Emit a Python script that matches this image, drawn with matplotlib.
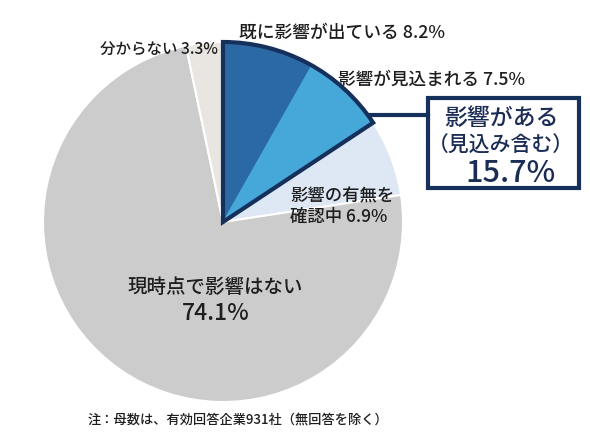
import matplotlib
matplotlib.use('Agg')
import matplotlib.pyplot as plt
from matplotlib.patches import Wedge, Rectangle

plt.rcParams['font.family'] = ['Noto Sans CJK JP', 'DejaVu Sans']
plt.rcParams['font.weight'] = 'medium'

# data
labels = ['既に影響が出ている', '影響が見込まれる', '影響の有無を\n確認中', '現時点で影響はない', '分からない']
shares = [8.2, 7.5, 6.9, 74.1, 3.3]
colors = ['#2b69a5', '#45a8d9', '#dde8f4', '#cdcccc', '#e9e5e1']
group_title = '影響がある'
group_sub = '（見込み含む）'
group_share = shares[0] + shares[1]
note = '注：母数は、有効回答企業931社（無回答を除く）'

W, H = 590, 443
navy = '#16305c'
txt = '#1e1e1e'

fig = plt.figure(figsize=(W / 100, H / 100), dpi=100)
ax = fig.add_axes([0, 0, 1, 1])

cx, cy, r = 223, H - 222, 180
wedges, _ = ax.pie(shares, colors=colors, startangle=90, counterclock=False,
                   center=(cx, cy), radius=r,
                   wedgeprops=dict(edgecolor='white', linewidth=1.5))
# blue wedges: no white seam between them
for w in wedges[:2]:
    w.set_edgecolor(w.get_facecolor())
    w.set_linewidth(0.5)

# outline around the "impact" group
end_ang = 90
start_ang = 90 - group_share / 100 * 360
ax.add_patch(Wedge((cx, cy), r, start_ang, end_ang, fill=False,
                   edgecolor=navy, linewidth=3, joinstyle='miter', zorder=5))

ax.set_xlim(0, W)
ax.set_ylim(0, H)
ax.set_aspect('auto')
ax.axis('off')

ax.text(239, H - 33, f'{labels[0]} {shares[0]}%', fontsize=12.8, color=txt, ha='left', va='center')
ax.text(338, H - 80, f'{labels[1]} {shares[1]}%', fontsize=12.7, color=txt, ha='left', va='center')
ax.text(290, H - 207, f'{labels[2]} {shares[2]}%', fontsize=12.5, color=txt, ha='left', va='center',
        linespacing=1.2)
ax.text(100, H - 50, f'{labels[4]} {shares[4]}%', fontsize=11.2, color=txt, ha='left', va='center')
ax.text(215, H - 287, labels[3], fontsize=14, color=txt, ha='center', va='center')
ax.text(216, H - 313, f'{shares[3]}%', fontsize=16.5, color=txt, ha='center', va='center')

# callout box
ax.plot([370, 428], [H - 115, H - 115], color=navy, lw=3, zorder=5)
ax.add_patch(Rectangle((428, H - 188), 151, 90, fill=False, edgecolor=navy, lw=3, zorder=5))
box_txt = '#1c2d55'
ax.text(501, H - 118, group_title, fontsize=16.5, color=box_txt, ha='center', va='center')
ax.text(501, H - 146, group_sub, fontsize=15, color=box_txt, ha='center', va='center')
ax.text(511, H - 173, f'{group_share:.1f}%', fontsize=22, color=box_txt, ha='center', va='center')

ax.text(88, H - 420, note, fontsize=9.5, color=txt, ha='left', va='center')

fig.savefig('out.png', dpi=100, facecolor='white')
